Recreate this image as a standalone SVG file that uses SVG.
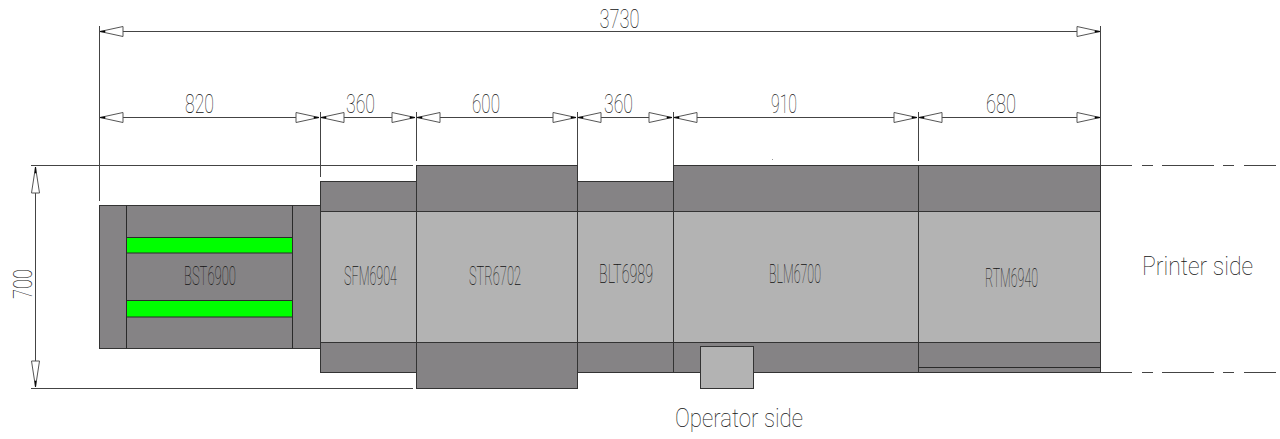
<svg xmlns="http://www.w3.org/2000/svg" width="1280" height="439" viewBox="0 0 1280 439">
<style>
.d{fill:#858385;stroke:#333;stroke-width:1}
.l{fill:#b3b3b3;stroke:#333;stroke-width:1}
.g{fill:#00ff00;stroke:#2a2a2a;stroke-width:1}
.k{fill:none;stroke:#2a2a2a;stroke-width:1}
.e{fill:none;stroke:#444;stroke-width:1}
.t{font-family:Roboto,"Liberation Sans",sans-serif;font-weight:100;fill:#111;stroke:none}
.dim{font-size:25px}
.lab{font-size:25px}
.dh{marker-start:url(#ah);marker-end:url(#ah)}
.dv{marker-start:url(#av);marker-end:url(#av)}
</style>
<defs>
<marker id="ah" markerUnits="userSpaceOnUse" viewBox="0 0 26 12" refX="25" refY="6" markerWidth="26" markerHeight="12" orient="auto-start-reverse">
<path d="M25 6L2 1V11Z" fill="#fff" stroke="#555" stroke-width="1"/><path d="M25 6L20 5.3V6.7Z" fill="#000" stroke="#000" stroke-width=".6"/>
</marker>
<marker id="av" markerUnits="userSpaceOnUse" viewBox="0 0 29 10" refX="28" refY="5" markerWidth="29" markerHeight="10" orient="auto-start-reverse">
<path d="M28 5L2 1V9Z" fill="#fff" stroke="#555" stroke-width="1"/><path d="M28 5L22 4.4V5.6Z" fill="#000" stroke="#000" stroke-width=".6"/>
</marker>
</defs>
<rect width="1280" height="439" fill="#fff"/>
<g id="node-bst6900">
<rect class="d" x="99.5" y="205.5" width="221" height="143"/>
<path class="k" d="M126.5 205.5V348.5M292.5 205.5V348.5"/>
<rect class="g" x="126.5" y="237.5" width="166" height="15.5"/>
<rect class="g" x="126.5" y="300.5" width="166" height="16.5"/>
<text class="t lab" x="184" y="285" textLength="52" lengthAdjust="spacingAndGlyphs">BST6900</text>
</g>
<g id="node-sfm6904">
<rect class="d" x="320.5" y="181.5" width="96" height="191"/>
<rect class="l" x="320.5" y="211.5" width="96" height="131"/>
<text class="t lab" x="344" y="285" textLength="53" lengthAdjust="spacingAndGlyphs">SFM6904</text>
</g>
<g id="node-str6702">
<rect class="d" x="416.5" y="165.5" width="161" height="223"/>
<rect class="l" x="416.5" y="211.5" width="161" height="131"/>
<text class="t lab" x="469" y="285" textLength="52" lengthAdjust="spacingAndGlyphs">STR6702</text>
</g>
<g id="node-blt6989">
<rect class="d" x="577.5" y="181.5" width="96" height="191"/>
<rect class="l" x="577.5" y="211.5" width="96" height="131"/>
<text class="t lab" x="599" y="283" textLength="54" lengthAdjust="spacingAndGlyphs">BLT6989</text>
</g>
<g id="node-blm6700">
<rect class="d" x="673.5" y="165.5" width="245" height="207"/>
<rect class="l" x="673.5" y="211.5" width="245" height="131"/>
<rect class="l" x="700.5" y="346.5" width="53" height="42" stroke="#555"/>
<text class="t lab" x="769" y="283" textLength="52" lengthAdjust="spacingAndGlyphs">BLM6700</text>
</g>
<g id="node-rtm6940">
<rect class="d" x="918.5" y="165.5" width="182" height="207"/>
<rect class="l" x="918.5" y="211.5" width="182" height="131"/>
<path class="k" d="M918.5 367.5H1100.5"/>
<text class="t lab" x="985" y="287" textLength="53" lengthAdjust="spacingAndGlyphs">RTM6940</text>
</g>
<g id="connectors">
<path class="e" d="M99.5 26V201M320.5 112V177M416.5 112V161M577.5 112V165M673.5 112V165M918.5 112V161M1100.5 26V165"/>
<path class="e" d="M31 165.5H413M31 388.5H413"/>
<path class="e" d="M1100.5 165.5H1132M1142 165.5H1153M1162 165.5H1214M1223 165.5H1234M1244 165.5H1276"/>
<path class="e" d="M1100.5 372.5H1132M1142 372.5H1153M1162 372.5H1214M1223 372.5H1234M1244 372.5H1276"/>
<path class="e dv" d="M35.5 167V387"/>
<path class="e dh" d="M100 31.5H1100"/>
<path class="e dh" d="M100 117.5H319"/>
<path class="e dh" d="M321 117.5H415"/>
<path class="e dh" d="M417 117.5H576"/>
<path class="e dh" d="M578 117.5H672"/>
<path class="e dh" d="M674 117.5H917"/>
<path class="e dh" d="M919 117.5H1100"/>
<circle cx="772.5" cy="159.5" r=".5" fill="#777"/>
</g>
<g id="labels">
<text class="t dim" x="599.5" y="28" textLength="40" lengthAdjust="spacingAndGlyphs">3730</text>
<text class="t dim" x="185" y="113" textLength="29" lengthAdjust="spacingAndGlyphs">820</text>
<text class="t dim" x="346" y="113" textLength="29" lengthAdjust="spacingAndGlyphs">360</text>
<text class="t dim" x="472" y="113" textLength="28" lengthAdjust="spacingAndGlyphs">600</text>
<text class="t dim" x="604" y="113" textLength="29" lengthAdjust="spacingAndGlyphs">360</text>
<text class="t dim" x="771" y="113" textLength="26" lengthAdjust="spacingAndGlyphs">910</text>
<text class="t dim" x="986" y="113" textLength="30" lengthAdjust="spacingAndGlyphs">680</text>
<text class="t dim" transform="translate(32 299) rotate(-90)" textLength="30" lengthAdjust="spacingAndGlyphs">700</text>
<text class="t lab" x="1142" y="275" textLength="111" lengthAdjust="spacingAndGlyphs">Printer side</text>
<text class="t lab" x="675" y="427" textLength="128" lengthAdjust="spacingAndGlyphs">Operator side</text>
</g>
</svg>
